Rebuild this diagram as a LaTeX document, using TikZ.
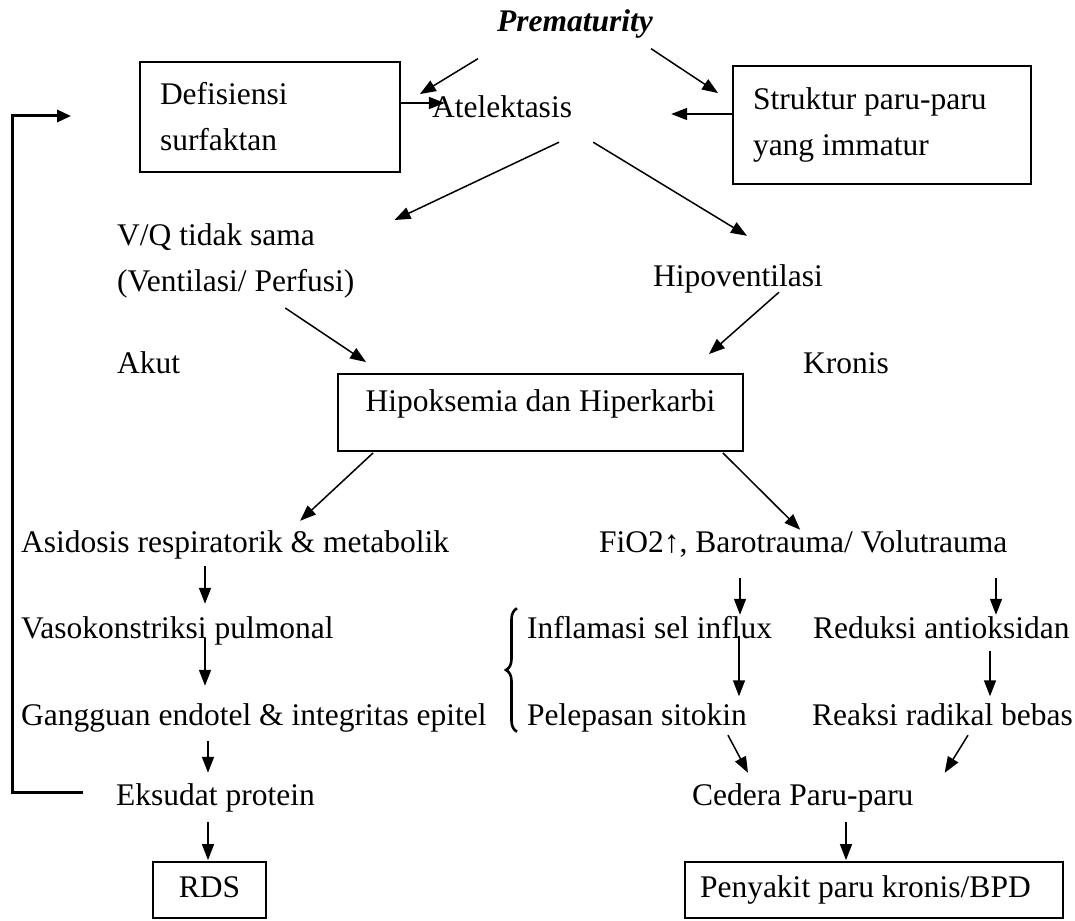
\documentclass[tikz,border=0pt]{standalone}
\usepackage{fontspec}
\setmainfont{Liberation Serif}
\usetikzlibrary{arrows.meta,calc,decorations.pathreplacing}
\tikzset{
lbl/.style={inner sep=0pt, text height=22pt, text depth=7pt},
box/.style={draw, line width=1.8pt, inner sep=0pt},
arr/.style={line width=1.5pt, -{Triangle[length=16pt,width=12pt]}},
fb/.style={line width=3pt, -{Triangle[length=14pt,width=12pt]}},
brc/.style={line width=2.6pt, decorate, decoration={brace,amplitude=11pt}}
}

\begin{document}
\fontsize{31.5pt}{46pt}\selectfont%
\begin{tikzpicture}[x=1pt,y=1pt,yscale=-1,xscale=1]
\useasboundingbox (0,0) rectangle (1075,920);

%Text: top
\node[lbl, font=\bfseries\itshape] (prem) at (575,24) {Prematurity};
%Shape: Rectangle
\node[box, minimum width=260pt, minimum height=110pt, text width=220pt, align=flush left] (def) at (270,117) {Defisiensi\\surfaktan};
\node[lbl] (atel) at (502,110) {Atelektasis};
%Shape: Rectangle
\node[box, minimum width=298pt, minimum height=118pt, text width=258pt, align=flush left] (struk) at (882,125) {Struktur paru-paru\\yang immatur};

%Text: second row
\node[inner sep=0pt, anchor=west, align=left] (vq) at (117,260.5) {V/Q tidak sama\\(Ventilasi/ Perfusi)};
\node[lbl] (hipo) at (738,279) {Hipoventilasi};
\node[lbl, anchor=west] (akut) at (117,366) {Akut};
\node[lbl, anchor=west] (kronis) at (803,366) {Kronis};
%Shape: Rectangle
\node[box, minimum width=405pt, text height=22pt, text depth=25pt, inner ysep=15pt] (hipok) at (540.5,412.5) {Hipoksemia dan Hiperkarbi};

%Text: left branch
\node[lbl, anchor=west] (asid) at (21,545) {Asidosis respiratorik \& metabolik};
\node[lbl, anchor=west] (vaso) at (21,631) {Vasokonstriksi pulmonal};
\node[lbl, anchor=west] (gang) at (21,718) {Gangguan endotel \& integritas epitel};
\node[lbl, anchor=west] (eksu) at (116,798) {Eksudat protein};
%Shape: Rectangle
\node[box, lbl, draw, minimum width=113pt, minimum height=56pt] (rds) at (209.5,890) {RDS};

%Text: right branch
\node[lbl, anchor=west] (fio) at (599,545) {FiO2↑, Barotrauma/ Volutrauma};
\node[lbl, anchor=west] (infl) at (527,631) {Inflamasi sel influx};
\node[lbl, anchor=west] (redu) at (813,631) {Reduksi antioksidan};
\node[lbl, anchor=west] (pele) at (527,718) {Pelepasan sitokin};
\node[lbl, anchor=west] (reak) at (812,718) {Reaksi radikal bebas};
\node[lbl, anchor=west] (cedera) at (692,798) {Cedera Paru-paru};
%Shape: Rectangle
\node[box, lbl, draw, minimum width=378pt, minimum height=56pt, text width=348pt, align=flush left] (bpd) at (874,890) {Penyakit paru kronis/BPD};

%Straight Lines
\draw[arr] ($(prem.south west)+(-19,20)$) -- ($(def.north east)+(19,33)$);
\draw[arr] ($(prem.south east)+(-2,10)$) -- ($(struk.north west)+(-14,28)$);
\draw[arr] ($(def.east)+(0,-14)$) -- ($(atel.west)+(13,-7)$);
\draw[arr] ($(struk.west)+(0,-11)$) -- ($(atel.east)+(99,4)$);
\draw[arr] ($(atel.south)+(57,17.5)$) -- ($(vq.north east)+(40,-3)$);
\draw[arr] ($(atel.south east)+(21,17.5)$) -- ($(hipo.north)+(9,-28.5)$);
\draw[arr] ($(vq.south)+(49.5,10)$) -- ($(hipok.north west)+(29,-11)$);
\draw[arr] ($(hipo.south)+(41,-1.5)$) -- ($(hipok.north east)+(-35,-19)$);
\draw[arr] ($(hipok.south west)+(36,1)$) -- ($(asid.north)+(65,-9.5)$);
\draw[arr] ($(hipok.south east)+(-21,1)$) -- ($(fio.north)+(-3,-0.5)$);

%Straight Lines: left branch
\draw[arr] ($(asid.south west)+(184,6.5)$) -- ($(vaso.north west)+(184,-12.5)$);
\draw[arr] ($(vaso.south west)+(184,-7.5)$) -- ($(gang.north west)+(184,-17.5)$);
\draw[arr] ($(gang.south west)+(187,8.5)$) -- ($(eksu.north west)+(92,-10.5)$);
\draw[arr] ($(eksu.south west)+(92,9.5)$) -- ($(rds.north)+(-1.5,-1)$);

%Straight Lines: right branch
\draw[arr] ($(fio.south west)+(141,18.5)$) -- ($(infl.north west)+(213,-1.5)$);
\draw[arr] ($(fio.south west)+(397,18.5)$) -- ($(redu.north west)+(183,-1.5)$);
\draw[arr] ($(infl.south west)+(212,-10)$) -- ($(pele.north west)+(212,-7)$);
\draw[arr] ($(redu.south west)+(177,5)$) -- ($(reak.north west)+(178,-7)$);
\draw[arr] ($(pele.south west)+(201,2.5)$) -- ($(cedera.north west)+(56,-10.5)$);
\draw[arr] ($(reak.south west)+(156,2.5)$) -- ($(cedera.north east)+(31,-10.5)$);
\draw[arr] ($(cedera.south west)+(154,9.5)$) -- ($(bpd.north)+(-28,-1)$);

%Brace
\draw[brc] ($(pele.south west)+(-10,-1)$) -- ($(infl.north west)+(-10,-8)$);

%Feedback line
\draw[fb] ($(eksu.west)+(-33,-6)$) -- ++(-71,0) |- ($(def.west)+(-68,-1)$);
\end{tikzpicture}
\end{document}
